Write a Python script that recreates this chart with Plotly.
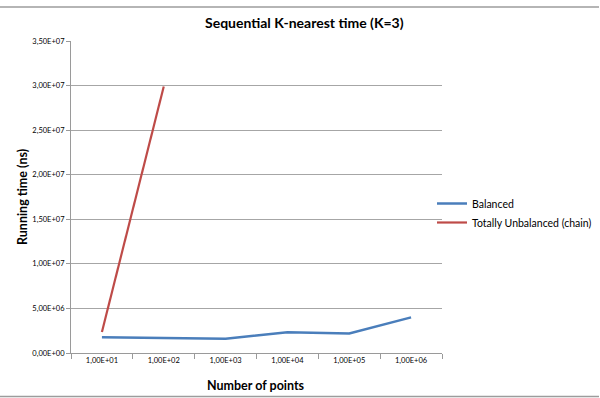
import plotly.graph_objects as go

categories = ["1,00E+01", "1,00E+02", "1,00E+03", "1,00E+04", "1,00E+05", "1,00E+06"]
balanced = [1.78e6, 1.73e6, 1.6e6, 2.33e6, 2.18e6, 4.0e6]
unbalanced_cats = ["1,00E+01", "1,00E+02"]
unbalanced = [2.35e6, 2.99e7]
y_ticks = [0, 5e6, 1e7, 1.5e7, 2e7, 2.5e7, 3e7, 3.5e7]
y_tick_labels = ["0,00E+00", "5,00E+06", "1,00E+07", "1,50E+07", "2,00E+07", "2,50E+07", "3,00E+07", "3,50E+07"]

FONT = "Lato, Open Sans, sans-serif"
W, H = 600, 398
L, R, T, B = 71, 158, 41, 45
pw, ph = W - L - R, H - T - B


def px(x):
    return (x - L) / pw


def py(y):
    return (H - y - B) / ph


fig = go.Figure()
fig.add_trace(go.Scatter(x=categories, y=balanced, mode="lines", name="Balanced",
                         line=dict(color="#4a7ebb", width=2.5)))
fig.add_trace(go.Scatter(x=unbalanced_cats, y=unbalanced, mode="lines", name="Totally Unbalanced (chain)",
                         line=dict(color="#be4b48", width=2.2)))

fig.update_layout(
    width=W, height=H,
    margin=dict(l=L, r=R, t=T, b=B, autoexpand=False),
    paper_bgcolor="white", plot_bgcolor="white",
    font=dict(family=FONT, color="#000000"),
    showlegend=True,
    legend=dict(x=px(432), y=py(213), xanchor="left", yanchor="middle",
                font=dict(size=10.5, family=FONT), tracegroupgap=0,
                itemwidth=30, bgcolor="rgba(0,0,0,0)"),
    xaxis=dict(type="category", categoryorder="array", categoryarray=categories,
               range=[-0.5, 5.5], showgrid=False, showline=True, linecolor="#9a9a9a", linewidth=1,
               ticks="outside", ticklen=5, tickcolor="#9a9a9a", tickson="boundaries",
               tickfont=dict(size=7.5, family=FONT), zeroline=False),
    yaxis=dict(range=[0, 3.5e7], tickvals=y_ticks, ticktext=y_tick_labels,
               showgrid=True, gridcolor="#a6a6a6", gridwidth=1,
               showline=True, linecolor="#9a9a9a", linewidth=1,
               ticks="outside", ticklen=4, tickcolor="#9a9a9a",
               tickfont=dict(size=7.5, family=FONT), zeroline=False),
    annotations=[
        dict(text="<b>Sequential K-nearest time (K=3)</b>", x=px(304), y=py(22),
             xref="paper", yref="paper", xanchor="center", yanchor="middle",
             showarrow=False, font=dict(size=14, family=FONT)),
        dict(text="<b>Running time (ns)</b>", x=px(22), y=py(197), textangle=-90,
             xref="paper", yref="paper", xanchor="center", yanchor="middle",
             showarrow=False, font=dict(size=12.5, family=FONT)),
        dict(text="<b>Number of points</b>", x=px(256), y=py(385),
             xref="paper", yref="paper", xanchor="center", yanchor="middle",
             showarrow=False, font=dict(size=12.5, family=FONT)),
    ],
)

for ypix in [7, 396.5]:
    fig.add_shape(type="line", xref="paper", yref="paper", x0=px(0), x1=px(599),
                  y0=py(ypix), y1=py(ypix), line=dict(color="#9c9c9c", width=1.5), layer="above")

fig.write_html("out.html", config={"displayModeBar": False})
